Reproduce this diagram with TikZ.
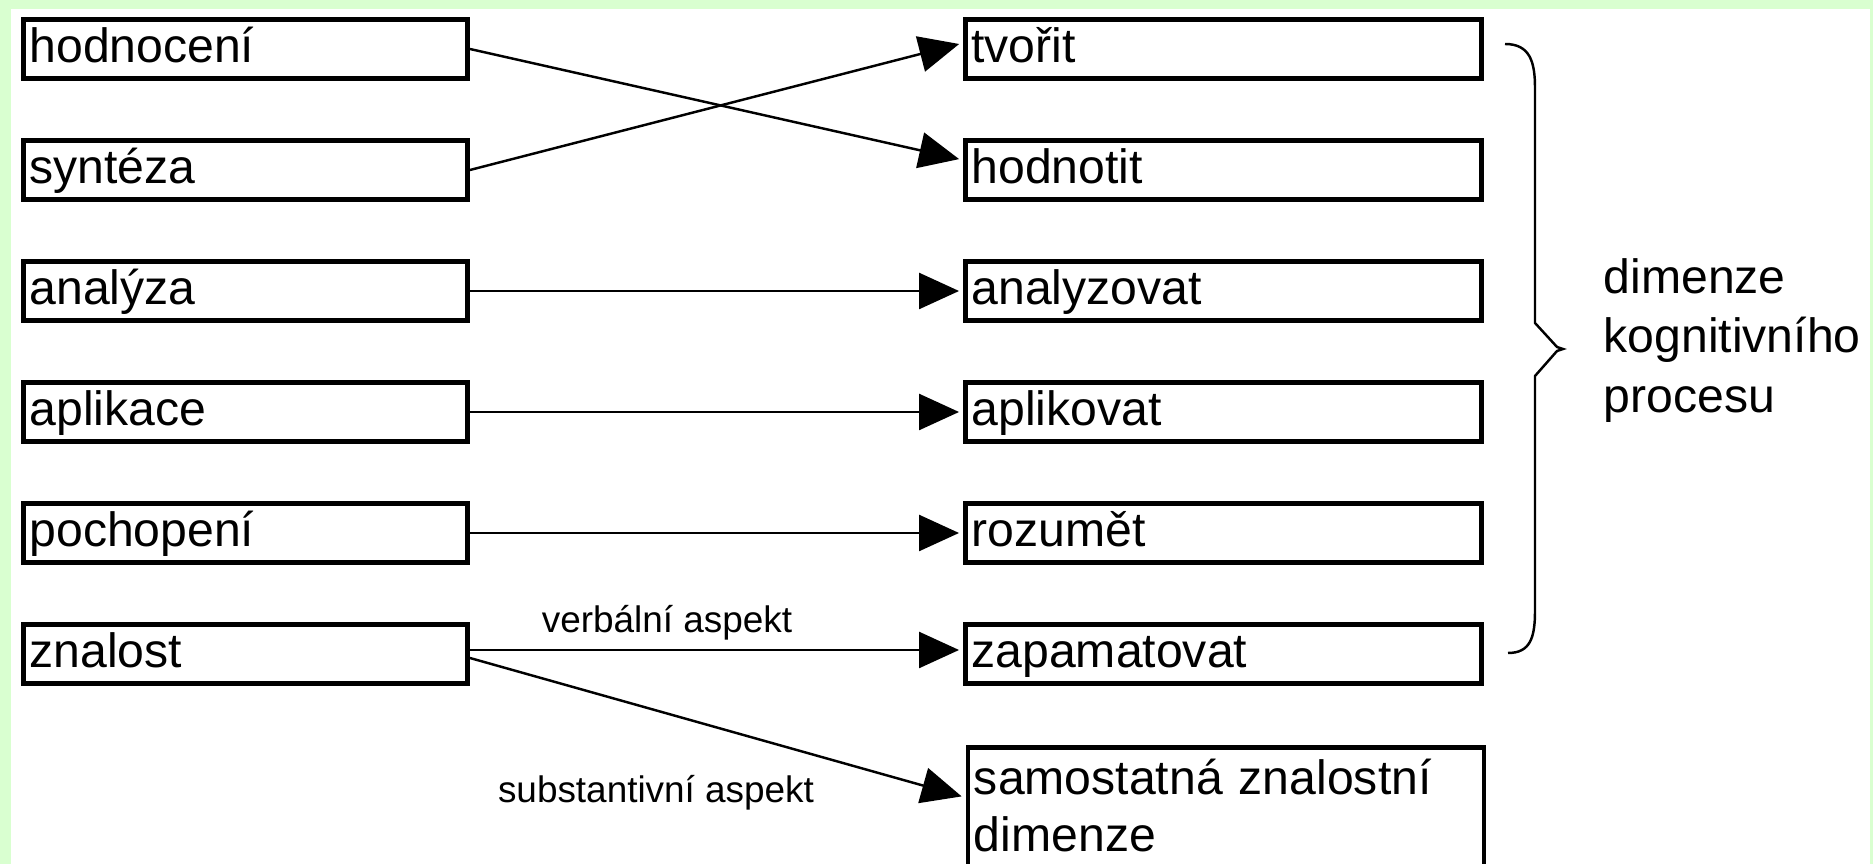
\documentclass[tikz,border=0pt]{standalone}
\usepackage{fontspec}
\setmainfont{Liberation Sans}
\usetikzlibrary{arrows.meta}
\definecolor{g1}{HTML}{D9FFD0}

\begin{document}
\begin{tikzpicture}[
	box/.style = {draw, line width=1.4pt, inner xsep=0.06cm, inner ysep=0, align=left, minimum height=0.59cm, text height=0.34cm, text depth=0.06cm, font=\fontsize{13.7pt}{16.2pt}\selectfont},
	lbox/.style = {box, text width=4.32cm},
	rbox/.style = {box, text width=5.04cm},
	arr/.style = {-{Triangle[length=0.4cm,width=0.36cm]}, line width=0.7pt, shorten >=0.04cm},
	lbl/.style = {inner sep=0, font=\fontsize{10.5pt}{12pt}\selectfont}
]
	\useasboundingbox (0,0) rectangle (18.73,-8.64);
	\fill [g1] (0,0) rectangle (18.73,-8.64);
	\fill [white] (0.11,-0.09) rectangle (18.70,-8.64);
	\clip (0,0) rectangle (18.73,-8.64);

	\begin{scope}
	\node [lbox] (hodnoceni) at (2.455,-0.49) {hodnocení};
	\node [lbox] (synteza)   at (2.455,-1.70) {syntéza};
	\node [lbox] (analyza)   at (2.455,-2.91) {analýza};
	\node [lbox] (aplikace)  at (2.455,-4.12) {aplikace};
	\node [lbox] (pochopeni) at (2.455,-5.33) {pochopení};
	\node [lbox] (znalost)   at (2.455,-6.54) {znalost};
	\end{scope}

	\begin{scope}
	\node [rbox] (tvorit)      at (12.235,-0.49) {tvořit};
	\node [rbox] (hodnotit)    at (12.235,-1.70) {hodnotit};
	\node [rbox] (analyzovat)  at (12.235,-2.91) {analyzovat};
	\node [rbox] (aplikovat)   at (12.235,-4.12) {aplikovat};
	\node [rbox] (rozumet)     at (12.235,-5.33) {rozumět};
	\node [rbox] (zapamatovat) at (12.235,-6.54) {zapamatovat};
	\node [rbox, anchor=north west, text height=0.47cm, text depth=1.2cm] (samostatna) at (9.655,-7.455) {samostatná znalostní\\dimenze};
	\end{scope}

	\draw [arr] (hodnoceni.east) -- ([yshift=0.10cm]hodnotit.west);
	\draw [arr] (synteza.east) -- ([yshift=0.06cm]tvorit.west);
	\draw [arr] (analyza.east) -- (analyzovat.west);
	\draw [arr] (aplikace.east) -- (aplikovat.west);
	\draw [arr] (pochopeni.east) -- (rozumet.west);
	\draw [arr] ([yshift=0.04cm]znalost.east) -- ([yshift=0.04cm]zapamatovat.west);
	\draw [arr] ([yshift=-0.04cm]znalost.east) -- ([yshift=-0.52cm]samostatna.north west);

	\node [lbl, anchor=base] (verbalni) at (6.67,-6.33) {verbální aspekt};
	\node [lbl, anchor=base] (substantivni) at (6.56,-8.03) {substantivní aspekt};

	% brace
	\draw [line width=0.7pt] (15.05,-0.44) .. controls (15.30,-0.44) and (15.35,-0.62) .. (15.35,-0.88) -- (15.35,-3.23) -- (15.57,-3.47) -- (15.63,-3.49) -- (15.57,-3.51) -- (15.35,-3.76) -- (15.35,-6.11) .. controls (15.35,-6.38) and (15.30,-6.53) .. (15.08,-6.53);
	\node [align=left, anchor=west, inner sep=0, font=\fontsize{13.7pt}{17pt}\selectfont] (dimenze) at (16.03,-3.405) {dimenze\\kognitivního\\procesu};
\end{tikzpicture}
\end{document}
